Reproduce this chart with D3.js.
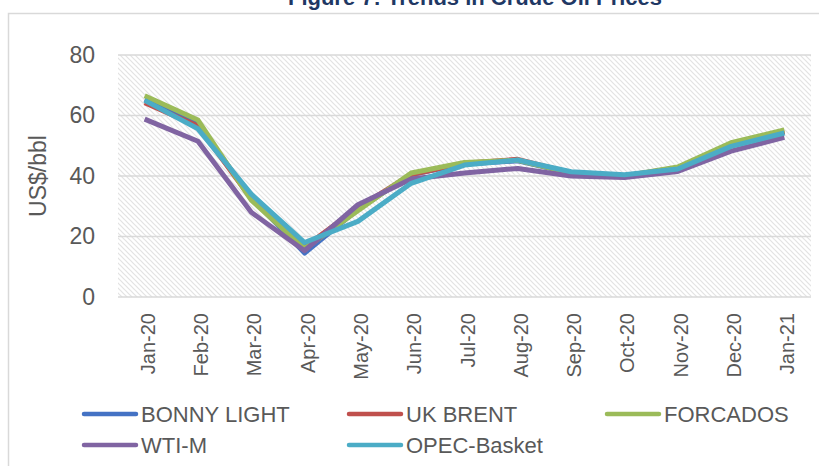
<!DOCTYPE html>
<html>
<head>
<meta charset="utf-8">
<script src="https://cdn.jsdelivr.net/npm/d3@7"></script>
<style>
  body { margin: 0; background: #fff; }
  #chart { width: 819px; height: 466px; overflow: hidden; }
</style>
</head>
<body>
<div id="chart"></div>
<script>
let months = ["Jan-20","Feb-20","Mar-20","Apr-20","May-20","Jun-20","Jul-20","Aug-20","Sep-20","Oct-20","Nov-20","Dec-20","Jan-21"];
let bonnyLight = [65.2, 57.0, 33.0, 14.5, 29.0, 40.5, 44.0, 45.0, 41.0, 40.0, 42.5, 50.0, 54.5];
let ukBrent    = [64.2, 56.5, 32.5, 16.5, 29.5, 40.5, 44.2, 45.5, 41.0, 40.0, 42.7, 50.3, 54.8];
let forcados   = [66.5, 58.5, 32.0, 16.0, 28.5, 41.0, 44.5, 45.2, 41.0, 40.0, 43.0, 51.0, 55.2];
let wtiM       = [58.8, 51.5, 28.0, 15.3, 30.5, 39.0, 41.0, 42.5, 40.0, 39.5, 41.5, 48.2, 52.8];
let opecBasket = [65.0, 55.6, 34.0, 18.0, 25.0, 37.6, 43.6, 45.3, 41.4, 40.4, 42.3, 49.8, 54.2];
let yTicks = [0, 20, 40, 60, 80];

let seriesNames  = ["BONNY LIGHT", "UK BRENT", "FORCADOS", "WTI-M", "OPEC-Basket"];
let seriesValues = [bonnyLight, ukBrent, forcados, wtiM, opecBasket];
let seriesColors = ["#4472C4", "#C0504D", "#9BBB59", "#8064A2", "#4BACC6"];

let width = 819, height = 466;
let margin = {top: 55, right: 8, bottom: 169, left: 118};
let textColor = "#595959";
let font = "'Liberation Sans', Arial, sans-serif";

let svg = d3.select("#chart")
  .append("svg")
  .attr("width", width)
  .attr("height", height);

// hatched plot background
let defs = svg.append("defs");
let pat = defs.append("pattern")
  .attr("id", "hatch")
  .attr("patternUnits", "userSpaceOnUse")
  .attr("width", 5)
  .attr("height", 5);
pat.append("rect").attr("width", 5).attr("height", 5).attr("fill", "#fff");
pat.append("path")
  .attr("d", "M-1,-1 L6,6 M-1,4 L1,6 M4,-1 L6,1")
  .attr("stroke", "#e3e3e3")
  .attr("stroke-width", 1.2);

// chart area border
svg.append("rect")
  .attr("x", 8.5).attr("y", 13.5)
  .attr("width", 830).attr("height", 500)
  .attr("fill", "none")
  .attr("stroke", "#d9d9d9")
  .attr("stroke-width", 1.5);

// title (cut off at the top in the original)
svg.append("text")
  .attr("x", 475)
  .attr("y", 5)
  .attr("text-anchor", "middle")
  .attr("font-family", font)
  .attr("font-weight", "bold")
  .attr("font-size", 22)
  .attr("fill", "#1F3864")
  .text("Figure 7: Trends in Crude Oil Prices");

let x = d3.scaleBand()
  .domain(months)
  .range([margin.left, width - margin.right]);

let y = d3.scaleLinear()
  .domain([0, 80])
  .range([height - margin.bottom, margin.top]);

svg.append("rect")
  .attr("x", margin.left)
  .attr("y", margin.top)
  .attr("width", width - margin.right - margin.left)
  .attr("height", y(0) - margin.top)
  .attr("fill", "url(#hatch)");

// gridlines
svg.append("g")
  .selectAll("line")
  .data(yTicks)
  .enter().append("line")
  .attr("x1", margin.left)
  .attr("x2", width - margin.right)
  .attr("y1", d => y(d))
  .attr("y2", d => y(d))
  .attr("stroke", "#d9d9d9")
  .attr("stroke-width", 1.5);

// y axis labels
let yAxis = svg.append("g")
  .attr("transform", "translate(" + (margin.left - 23) + ",0)")
  .call(d3.axisLeft(y).tickValues(yTicks).tickSize(0).tickPadding(0));
yAxis.select(".domain").remove();
yAxis.selectAll("text")
  .attr("font-family", font)
  .attr("font-size", 23)
  .attr("fill", textColor);

svg.append("text")
  .attr("transform", "translate(46," + y(40) + ") rotate(-90)")
  .attr("text-anchor", "middle")
  .attr("font-family", font)
  .attr("font-size", 23)
  .attr("fill", textColor)
  .text("US$/bbl");

// x axis labels, rotated
let xAxis = svg.append("g")
  .attr("transform", "translate(0," + (y(0) + 16) + ")")
  .call(d3.axisBottom(x).tickSize(0).tickPadding(0));
xAxis.select(".domain").remove();
xAxis.selectAll("text")
  .attr("font-family", font)
  .attr("font-size", 20)
  .attr("fill", textColor)
  .attr("text-anchor", "end")
  .attr("dy", "0.35em")
  .attr("transform", "translate(3,0) rotate(-90)");

// lines
let line = d3.line()
  .x((d, i) => x(months[i]) + x.bandwidth() / 2)
  .y(d => y(d));

svg.append("g")
  .selectAll("path")
  .data(seriesValues)
  .enter().append("path")
  .attr("d", line)
  .attr("fill", "none")
  .attr("stroke", (d, i) => seriesColors[i])
  .attr("stroke-width", 5)
  .attr("stroke-linejoin", "round");

// legend
let legendPos = [[75, 414], [340, 414], [598, 414], [75, 445], [340, 445]];
let legend = svg.append("g");
let keys = legend.selectAll("g")
  .data(seriesNames)
  .enter().append("g")
  .attr("transform", (d, i) => "translate(" + legendPos[i][0] + "," + legendPos[i][1] + ")");
keys.append("line")
  .attr("x1", 9).attr("x2", 61)
  .attr("y1", 0).attr("y2", 0)
  .attr("stroke", (d, i) => seriesColors[i])
  .attr("stroke-width", 4.5)
  .attr("stroke-linecap", "round");
keys.append("text")
  .attr("x", 66)
  .attr("dy", "0.35em")
  .attr("font-family", font)
  .attr("font-size", 22)
  .attr("fill", textColor)
  .text(d => d);
</script>
</body>
</html>
